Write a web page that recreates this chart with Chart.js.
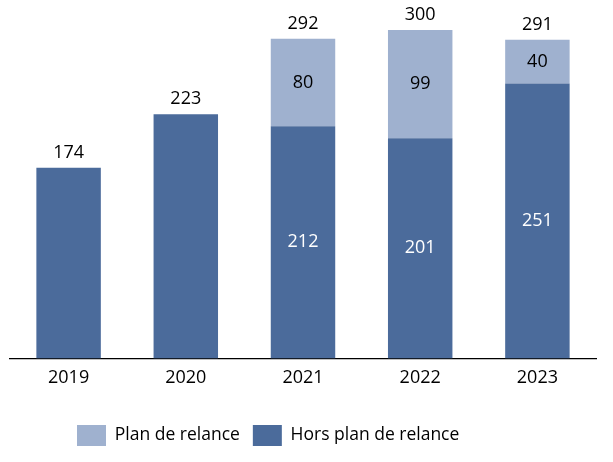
<!DOCTYPE html>
<html>
<head>
<meta charset="utf-8">
<script src="https://cdn.jsdelivr.net/npm/chart.js@4"></script>
<style>
  html, body { margin: 0; padding: 0; background: #fff; }
  #wrap { width: 613px; height: 462px; }
</style>
</head>
<body>
<div id="wrap"><canvas id="chart" width="613" height="462"></canvas></div>
<script>
const years = ['2019', '2020', '2021', '2022', '2023'];
const horsPlan = [174, 223, 212, 201, 251];
const planRelance = [0, 0, 80, 99, 40];

const FONT = '"Open Sans"';

// draws the values inside the bars and the totals above them
const valueLabels = {
  id: 'valueLabels',
  afterDatasetsDraw(chart) {
    const ctx = chart.ctx;
    const dark = chart.getDatasetMeta(0).data;
    const light = chart.getDatasetMeta(1).data;
    ctx.save();
    ctx.font = '18px ' + FONT;
    ctx.textAlign = 'center';
    ctx.textBaseline = 'middle';
    years.forEach((y, i) => {
      const d = dark[i];
      const l = light[i];
      let top = d.y;
      if (planRelance[i] > 0) {
        ctx.fillStyle = '#ffffff';
        ctx.fillText(horsPlan[i], d.x, (d.y + d.base) / 2);
        ctx.fillStyle = '#000000';
        ctx.fillText(planRelance[i], l.x, (l.y + l.base) / 2);
        top = l.y;
      }
      ctx.fillStyle = '#000000';
      ctx.fillText(horsPlan[i] + planRelance[i], d.x, top - 15);
    });
    ctx.restore();
  }
};

// legend sits a bit left of centre and lower in the original
const legendShift = {
  id: 'legendShift',
  afterLayout(chart) {
    chart.legend.left = 64;
    chart.legend.top += 14;
    chart.legend.bottom += 14;
  }
};

new Chart(document.getElementById('chart'), {
  type: 'bar',
  data: {
    labels: years,
    datasets: [
      {
        label: 'Hors plan de relance',
        data: horsPlan,
        backgroundColor: '#4b6b9b'
      },
      {
        label: 'Plan de relance',
        data: planRelance,
        backgroundColor: '#9fb1cf'
      }
    ]
  },
  options: {
    responsive: false,
    animation: false,
    layout: { padding: { top: 8, left: 10, right: 17, bottom: 20 } },
    datasets: { bar: { barPercentage: 0.55, categoryPercentage: 1 } },
    scales: {
      x: {
        stacked: true,
        grid: { display: false, drawTicks: false },
        border: { display: true, color: '#000000', width: 1.3 },
        ticks: { color: '#000000', font: { family: FONT, size: 18 }, padding: 9 }
      },
      y: {
        stacked: true,
        display: false,
        min: 0,
        max: 320
      }
    },
    plugins: {
      legend: {
        position: 'bottom',
        align: 'start',
        reverse: true,
        labels: {
          color: '#000000',
          font: { family: FONT, size: 17.5 },
          boxWidth: 29,
          boxHeight: 21,
          padding: 13
        }
      },
      tooltip: { enabled: false }
    }
  },
  plugins: [valueLabels, legendShift]
});
</script>
</body>
</html>
